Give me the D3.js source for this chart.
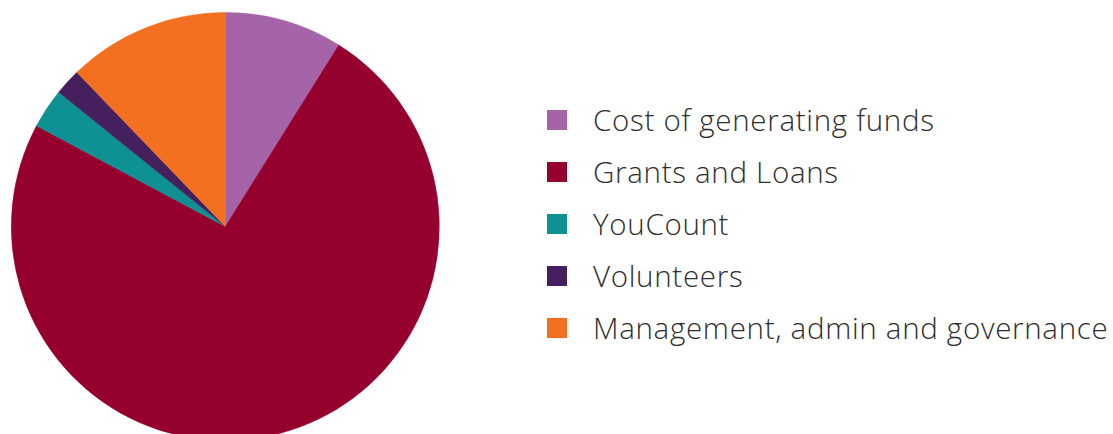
<!DOCTYPE html>
<html>
<head>
<meta charset="utf-8">
<script src="https://cdn.jsdelivr.net/npm/d3@7"></script>
<style>
  body { margin: 0; background: #fff; }
  svg { display: block; }
</style>
</head>
<body>
<div id="chart"></div>
<script>
// expenditure split (percent)
var categories = ["Cost of generating funds", "Grants and Loans", "YouCount", "Volunteers", "Management, admin and governance"];
var values = [8.9, 73.9, 3.0, 2.0, 12.2];
var colors = ["#a564a7", "#96002e", "#0e9193", "#46205e", "#f37021"];

var width = 1113, height = 434;
var cx = 225.3, cy = 226.5, radius = 214;

var svg = d3.select("#chart").append("svg")
    .attr("width", width)
    .attr("height", height);

var data = categories.map(function(c, i) { return {name: c, value: values[i], color: colors[i]}; });

var pie = d3.pie()
    .sort(null)
    .value(function(d) { return d.value; });

var arc = d3.arc()
    .innerRadius(0)
    .outerRadius(radius);

svg.append("g")
    .attr("transform", "translate(" + cx + "," + cy + ")")
  .selectAll("path")
  .data(pie(data))
  .enter().append("path")
    .attr("d", arc)
    .attr("fill", function(d) { return d.data.color; })
    .attr("stroke", function(d) { return d.data.color; })
    .attr("stroke-width", 0.5);

// legend
var rowY = d3.scaleLinear().domain([0, data.length - 1]).range([120, 328]);

var legend = svg.append("g")
    .selectAll("g")
    .data(data)
    .enter().append("g")
    .attr("transform", function(d, i) { return "translate(547," + rowY(i) + ")"; });

legend.append("rect")
    .attr("x", 0)
    .attr("y", -10)
    .attr("width", 20)
    .attr("height", 20)
    .attr("fill", function(d) { return d.color; });

legend.append("text")
    .attr("x", 46)
    .attr("y", 10.5)
    .attr("font-family", "'Open Sans', sans-serif")
    .attr("font-weight", 300)
    .attr("font-size", 29.5)
    .attr("letter-spacing", 0.7)
    .attr("fill", "#2e2e2e")
    .text(function(d) { return d.name; });
</script>
</body>
</html>
